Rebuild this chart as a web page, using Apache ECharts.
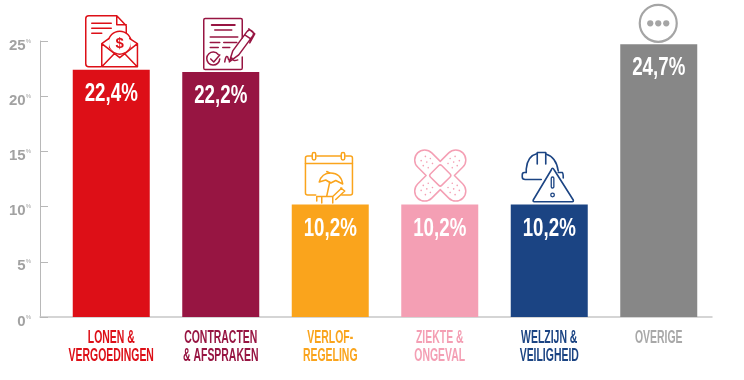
<!DOCTYPE html>
<html><head><meta charset="utf-8">
<style>html,body{margin:0;padding:0;background:#fff}#c{width:744px;height:380px}</style>
<script src="https://cdn.jsdelivr.net/npm/echarts@6/dist/echarts.min.js"></script>
</head><body><div id="c"></div>
<script>
const categories = ['LONEN &\nVERGOEDINGEN','CONTRACTEN\n& AFSPRAKEN','VERLOF-\nREGELING','ZIEKTE &\nONGEVAL','WELZIJN &\nVEILIGHEID','OVERIGE'];
const values = [22.4,22.2,10.2,10.2,10.2,24.7];
const valueLabels = ['22,4%','22,2%','10,2%','10,2%','10,2%','24,7%'];
const colors = ['#dd0f17','#971542','#faa41c','#f49fb4','#1b4483','#878787'];
const labelColors = ['#dd0f17','#971542','#faa41c','#f49fb4','#1b4483','#a8a8a8'];
const FONT = '"Liberation Sans",sans-serif';

// Icons: each is drawn relative to the top-centre of its bar.
function line(d, c, w){ return {type:'path', shape:{pathData:d}, style:{fill:'none', stroke:c, lineWidth:w||1.5, lineJoin:'round', lineCap:'round'}}; }
function dot(x,y,r,c){ return {type:'circle', shape:{cx:x,cy:y,r:r}, style:{fill:c}}; }
function ring(x,y,r,c,w,fill){ return {type:'circle', shape:{cx:x,cy:y,r:r}, style:{fill:fill||'none',stroke:c,lineWidth:w||1.5}}; }
const icons = [
 (c)=>({ox:110.5,oy:70,kids:[
   line('M100,67 H88 Q85,67 85,64 V19 Q85,16 88,16 H116 L125.5,26 V33 M116,16 V25 H125.5',c),
   line('M91,23.5 H110.5 M91,28.5 H110.5 M91,33.5 H101',c),
   ring(119,43,11.5,c),
   {type:'path',shape:{pathData:'M101,44 V67 H136.7 V44 L129,39 L130,48 L119,58 L108,48 L109,39 Z'},style:{fill:'#fff',stroke:'#fff',lineWidth:0}},
   line('M101,44 V67 H136.7 V44 L129,39 M101,44 L108,39 M101,44 L119,58 L136.7,44 M101.5,66.5 L113.5,54 M136,66.5 L124,54',c),
   {type:'text',x:119,y:44,style:{text:'$',fill:c,font:'bold 15px '+FONT,align:'center',verticalAlign:'middle'}}
 ]}),
 (c)=>({ox:221,oy:72,kids:[
   line('M242.5,38 V20 Q242.5,18.7 241,18.7 H205.5 Q204,18.7 204,20 V68 Q204,69.7 205.5,69.7 H241 Q242.5,69.7 242.5,68 V57',c),
   line('M212,25 H235',c,2), line('M215,30 H232',c,1.5),
   line('M210.5,37 H238 M210.5,42.5 H220 M224,42.5 H237 M210.5,47.5 H218.5 M223,47.5 H230',c),
   {type:'path',shape:{pathData:'M220,59 A6.5,6.5 0 1 1 218.5,54.5'},style:{fill:'none',stroke:c,lineWidth:1.5,lineCap:'round'}},
   line('M211,59 L214,62 L220,55',c),
   line('M225,62 Q226,55 228,57 Q229,63 232,58 Q233,62 238,60',c),
   line('M229.5,62 L233,51 L247,32 Q249,29 252,31 Q255,33 253,36 L239,55 Z M245,35 L251,39 M249,29 L255,34 L250,43',c)
 ]}),
 (c)=>({ox:330.5,oy:204.4,kids:[
   line('M316,195 H308 Q305.7,195 305.7,193 V158 Q305.7,156 308,156 H312 M317,156 H341 M346,156 H350.5 Q352.7,156 352.7,158 V193 Q352.7,195 350.5,195 H342',c),
   line('M305.7,163.5 H352.7',c),
   {type:'rect',shape:{x:312.5,y:152.5,width:3.5,height:7.5,r:1.7},style:{fill:'#fff',stroke:c,lineWidth:1.5}},
   {type:'rect',shape:{x:341.5,y:152.5,width:3.5,height:7.5,r:1.7},style:{fill:'#fff',stroke:c,lineWidth:1.5}},
   line('M319.5,182 Q322,173 331,173 Q341,173 343,184 L336,180.5 L331,183 L326,180 Z',c),
   line('M330,173 L327,171.5 M330,182 L327,196',c),
   line('M317,196.5 H333 L342,188 M317,196.5 V201 M322,197 V203 M333,197 V203 M341,188 L345,191 L336,199.5',c)
 ]}),
 (c)=>({ox:440,oy:204.4,kids:[
   {type:'group',x:440.5,y:175.5,rotation:Math.PI/4,children:[
     line('M-10,-10 H-22 A10,10 0 0 0 -22,10 H-10 V22 A10,10 0 0 0 10,22 V10 H22 A10,10 0 0 0 22,-10 H10 V-22 A10,10 0 0 0 -10,-22 Z',c),
     {type:'rect',shape:{x:-8,y:-8,width:16,height:16,r:2},style:{fill:'none',stroke:c,lineWidth:1.5}},
     dot(-24,-3,.8,c),dot(-24,3,.8,c),dot(-19,-5,.8,c),dot(-19,0,.8,c),dot(-19,5,.8,c),dot(-14,-3,.8,c),dot(-14,3,.8,c),
     dot(24,-3,.8,c),dot(24,3,.8,c),dot(19,-5,.8,c),dot(19,0,.8,c),dot(19,5,.8,c),dot(14,-3,.8,c),dot(14,3,.8,c),
     dot(-3,-24,.8,c),dot(3,-24,.8,c),dot(-5,-19,.8,c),dot(0,-19,.8,c),dot(5,-19,.8,c),dot(-3,-14,.8,c),dot(3,-14,.8,c),
     dot(-3,24,.8,c),dot(3,24,.8,c),dot(-5,19,.8,c),dot(0,19,.8,c),dot(5,19,.8,c),dot(-3,14,.8,c),dot(3,14,.8,c)
   ]}
 ]}),
 (c)=>({ox:549,oy:204.4,kids:[
   line('M526,172.5 V169 Q527,156 537,153.5 V152.5 H545.5 V154 Q556,157 558,171',c,1.6),
   line('M537,153.5 V164 M545.5,154 V164',c,1.6),
   line('M526,172.5 H524 Q522,172.5 522,175 V177 Q522,179.5 525,179.5 H541 M558,172.5 H562 Q563,173 563,178',c,1.6),
   {type:'path',shape:{pathData:'M552.3,168.3 Q553,168.3 554,170 L573,200 Q573.5,201.7 572,201.7 H534 Q532.5,201.7 533,200 L551,170 Q551.6,168.3 552.3,168.3 Z'},style:{fill:'#fff',stroke:c,lineWidth:1.6,lineJoin:'round'}},
   {type:'rect',shape:{x:551,y:177,width:2.6,height:11,r:1.2},style:{fill:'none',stroke:c,lineWidth:1.3}},
   ring(552.3,195,1.8,c,1.3)
 ]}),
 (c)=>({ox:657.5,oy:44.3,kids:[
   ring(657,23.3,18.5,'#a5a5a5',2.2), dot(649,23.3,3.1,'#a5a5a5'),dot(657,23.3,3.1,'#a5a5a5'),dot(665,23.3,3.1,'#a5a5a5')
 ]})
];

const Y = {min:0,max:25,interval:5};
const chart = echarts.init(document.getElementById('c'),null,{renderer:'canvas'});
chart.setOption({
  animation:false, backgroundColor:'#fff',
  grid:[{left:40,top:41,width:672,height:276},{left:56.5,top:41,width:657,height:276}],
  xAxis:[
    {gridIndex:0,type:'category',data:[''],axisTick:{show:false},axisLabel:{show:false},axisLine:{lineStyle:{color:'#c8c8c8',width:1.5}}},
    {gridIndex:1,type:'category',data:categories,axisLine:{show:false},axisTick:{show:false},axisLabel:{show:false}}
  ],
  yAxis:[
    {gridIndex:0,type:'value',...Y,splitLine:{show:false},
     axisLine:{show:true,lineStyle:{color:'#b8b8b8',width:1}},
     axisTick:{show:true,inside:true,length:8,lineStyle:{color:'#b8b8b8'}},
     axisLabel:{margin:9,padding:[9,0,0,0],formatter:v=>'{n|'+v+'}{p|%}',rich:{
        n:{fontFamily:FONT,fontWeight:'bold',fontSize:15,color:'#a2a2a2',lineHeight:15},
        p:{fontFamily:FONT,fontSize:6,color:'#a2a2a2',verticalAlign:'top',lineHeight:15}}}},
    {gridIndex:1,type:'value',...Y,show:false}
  ],
  series:[
    {type:'bar',xAxisIndex:1,yAxisIndex:1,barWidth:77,
     data:values.map((v,i)=>({value:v,itemStyle:{color:colors[i]}}))},
    {type:'custom',xAxisIndex:1,yAxisIndex:1,clip:false,silent:true,z:5,
     data:values.map((v,i)=>[i,v]),
     renderItem:(p,api)=>{
       const i=api.value(0), pt=api.coord([i,api.value(1)]), base=api.coord([i,0]);
       const ic=icons[i](colors[i]==='#878787'?'#a5a5a5':colors[i]);
       return {type:'group',children:[
         {type:'group',x:pt[0]-ic.ox,y:pt[1]-ic.oy,children:ic.kids},
         {type:'text',x:pt[0],y:pt[1]+24,scaleX:0.72,
          style:{text:valueLabels[i],fill:'#fff',align:'center',verticalAlign:'middle',font:'bold 26px '+FONT}},
         {type:'text',x:base[0],y:base[1]+12,scaleX:0.58,
          style:{text:categories[i],fill:labelColors[i],align:'center',verticalAlign:'top',font:'bold 18px '+FONT,lineHeight:18}}
       ]};
     }}
  ]
});
</script></body></html>
